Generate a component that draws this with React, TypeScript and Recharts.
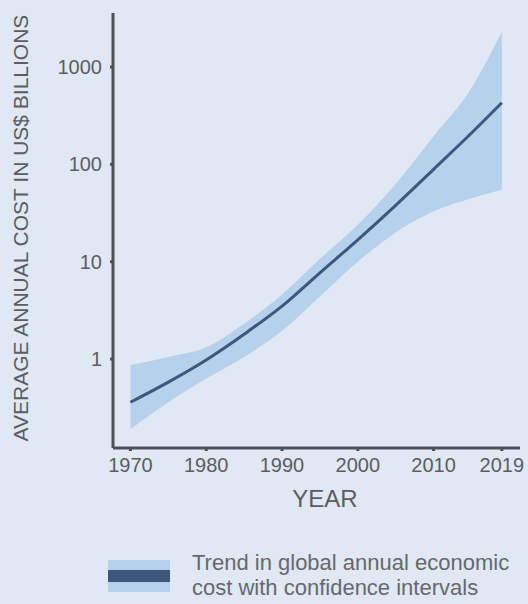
import React from 'react';
import { ComposedChart, Area, Line, XAxis, YAxis } from 'recharts';

const years = [1970, 1975, 1980, 1985, 1990, 1995, 2000, 2005, 2010, 2015, 2019];
const trend = [0.36, 0.58, 0.98, 1.8, 3.5, 7.7, 16.8, 38, 89, 210, 430];
const upper = [0.87, 1.05, 1.32, 2.3, 4.6, 10.7, 24, 63, 195, 610, 2300];
const lower = [0.19, 0.36, 0.63, 1.05, 1.95, 4.4, 10, 20, 33, 45, 55];
const xTicks = [1970, 1980, 1990, 2000, 2010, 2019];
const yTicks = [1, 10, 100, 1000];

const data = years.map((y, i) => ({ year: y, trend: trend[i], band: [lower[i], upper[i]] }));

const FONT = '"Liberation Sans", Arial, Helvetica, sans-serif';
const BG = '#e0e8f3';
const BAND = '#b5d1eb';
const LINE = '#3d577c';
const AXIS = '#4b505b';
const TEXT = '#5a5d63';

export default function App() {
  return (
    <div style={{ position: 'absolute', left: 0, top: 0, width: 528, height: 604, background: BG, fontFamily: FONT, overflow: 'hidden' }}>
      <ComposedChart width={528} height={604} data={data} margin={{ top: 13, right: 8, bottom: 116, left: 13 }}>
        <XAxis
          dataKey="year"
          type="number"
          domain={[1967.7, 2021.4]}
          ticks={xTicks}
          allowDataOverflow
          height={40}
          stroke={AXIS}
          strokeWidth={3}
          tickSize={3}
          tickMargin={7}
          tick={{ fill: TEXT, fontSize: 20, fontFamily: FONT }}
        />
        <YAxis
          scale="log"
          domain={[0.122, 3590]}
          ticks={yTicks}
          allowDataOverflow
          width={100}
          stroke={AXIS}
          strokeWidth={3}
          tickSize={3}
          tickMargin={8}
          tick={{ fill: TEXT, fontSize: 20, fontFamily: FONT }}
        />
        <Area dataKey="band" type="monotone" stroke="none" fill={BAND} fillOpacity={1} isAnimationActive={false} />
        <Line dataKey="trend" type="monotone" stroke={LINE} strokeWidth={3} dot={false} isAnimationActive={false} />
      </ComposedChart>
      <div style={{ position: 'absolute', left: 21 - 250, top: 228 - 12, width: 500, height: 24, lineHeight: '24px', textAlign: 'center', fontSize: 21, color: TEXT, transform: 'rotate(-90deg)', whiteSpace: 'nowrap' }}>
        AVERAGE ANNUAL COST IN US$ BILLIONS
      </div>
      <div style={{ position: 'absolute', left: 225, top: 487, width: 200, textAlign: 'center', fontSize: 24, lineHeight: '24px', color: TEXT }}>
        YEAR
      </div>
      <div style={{ position: 'absolute', left: 108, top: 560, width: 62, height: 32, background: BAND }}>
        <div style={{ position: 'absolute', left: 0, top: 10, width: 62, height: 12, background: LINE }} />
      </div>
      <div style={{ position: 'absolute', left: 192, top: 550, fontSize: 22, lineHeight: '25px', color: '#66686d', whiteSpace: 'nowrap' }}>
        Trend in global annual economic<br />cost with confidence intervals
      </div>
    </div>
  );
}
